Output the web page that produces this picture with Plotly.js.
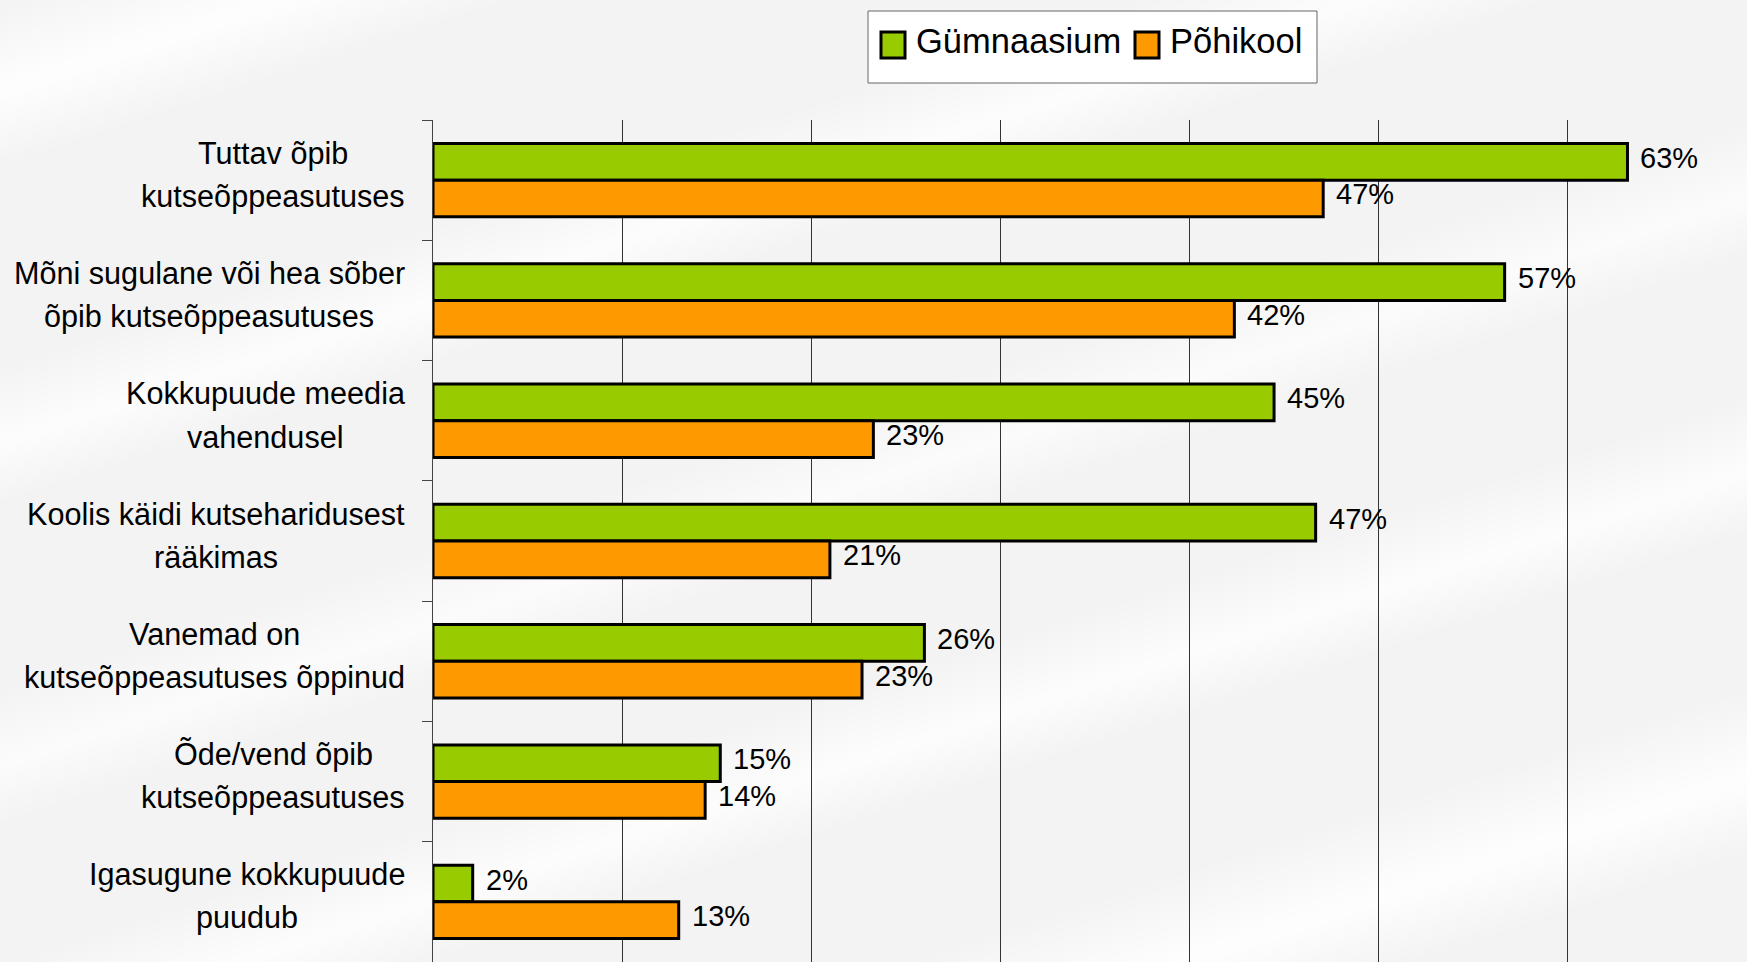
<!DOCTYPE html>
<html>
<head>
<meta charset="utf-8">
<script src="https://cdn.plot.ly/plotly-3.0.1.min.js"></script>
<style>
html, body { margin: 0; padding: 0; }
body {
  width: 1747px; height: 962px; overflow: hidden;
  background-color: #f3f3f3;
  background-image:
    linear-gradient(162deg,
      rgba(255,255,255,0) 0%, rgba(255,255,255,0.9) 6%, rgba(255,255,255,0) 11%,
      rgba(255,255,255,0) 24%, rgba(255,255,255,0.8) 29%, rgba(255,255,255,0) 33%,
      rgba(255,255,255,0) 45%, rgba(255,255,255,0.7) 50%, rgba(255,255,255,0) 54%,
      rgba(255,255,255,0) 63%, rgba(255,255,255,0.8) 68%, rgba(255,255,255,0) 72%,
      rgba(255,255,255,0) 82%, rgba(255,255,255,0.9) 88%, rgba(255,255,255,0) 93%);
}
#chart { width: 1747px; height: 962px; }
</style>
</head>
<body>
<div id="chart"></div>
<script>
// ---- data ----
const catLine1 = ['Tuttav õpib', 'Mõni sugulane või hea sõber', 'Kokkupuude meedia', 'Koolis käidi kutseharidusest', 'Vanemad on', 'Õde/vend õpib', 'Igasugune kokkupuude'];
const catLine2 = ['kutseõppeasutuses', 'õpib kutseõppeasutuses', 'vahendusel', 'rääkimas', 'kutseõppeasutuses õppinud', 'kutseõppeasutuses', 'puudub'];
const categories = catLine1.map((a, i) => a + ' ' + catLine2[i]);
const gymnaasium = [63.2, 56.7, 44.5, 46.7, 26.0, 15.2, 2.1];
const pohikool   = [47.1, 42.4, 23.3, 21.0, 22.7, 14.4, 13.0];
const seriesNames = ['Gümnaasium', 'Põhikool'];
const seriesColors = ['#99CC00', '#FF9900'];

// ---- layout geometry (pixels) ----
const W = 1747, H = 962;
const ML = 433, MT = 120, MR = 0, MB = 0;
const PW = W - ML - MR, PH = H - MT - MB;
const px2x = p => (p - ML) / PW;
const px2y = p => (H - MB - p) / PH;
const FONT = '"Liberation Sans", Arial, sans-serif';

const common = {
  type: 'bar', orientation: 'h', y: categories,
  hoverinfo: 'skip', showlegend: false, cliponaxis: false
};
const traces = [
  Object.assign({}, common, { x: gymnaasium, name: seriesNames[0], marker: { color: seriesColors[0], line: { color: '#000', width: 3 } } }),
  Object.assign({}, common, { x: pohikool, name: seriesNames[1], marker: { color: seriesColors[1], line: { color: '#000', width: 3 } } })
];

const annotations = [];

// value labels (placed at each bar end through the x axis scale)
const series = [gymnaasium, pohikool];
const valShift = [22.3, -14.3];
series.forEach((vals, s) => {
  vals.forEach((v, i) => {
    annotations.push({ xref: 'x', yref: 'y', x: v, y: categories[i], text: Math.round(v) + '%', showarrow: false,
      xanchor: 'left', yanchor: 'middle', xshift: 11, yshift: valShift[s],
      font: { family: FONT, size: 29, color: '#000' } });
  });
});

// category labels: two centered lines per category, block right-aligned
const ctx = document.createElement('canvas').getContext('2d');
const catSize = 30.6;
ctx.font = catSize + 'px "Liberation Sans"';
const labelRight = 405;
categories.forEach((c, i) => {
  const w = Math.max(ctx.measureText(catLine1[i]).width, ctx.measureText(catLine2[i]).width);
  const cx = px2x(labelRight - w / 2);
  annotations.push({ xref: 'paper', yref: 'y', x: cx, y: c, text: catLine1[i], showarrow: false, xanchor: 'center', yanchor: 'middle', yshift: 27, font: { family: FONT, size: catSize, color: '#000' } });
  annotations.push({ xref: 'paper', yref: 'y', x: cx, y: c, text: catLine2[i], showarrow: false, xanchor: 'center', yanchor: 'middle', yshift: -16, font: { family: FONT, size: catSize, color: '#000' } });
});

// legend (custom, to match large square markers)
const shapes = [
  { type: 'rect', xref: 'paper', yref: 'paper', x0: px2x(868), x1: px2x(1317), y0: px2y(83), y1: px2y(11), fillcolor: '#ffffff', line: { color: '#666', width: 1 }, layer: 'above' },
  { type: 'rect', xref: 'paper', yref: 'paper', x0: px2x(881), x1: px2x(905), y0: px2y(58), y1: px2y(32), fillcolor: seriesColors[0], line: { color: '#000', width: 3 }, layer: 'above' },
  { type: 'rect', xref: 'paper', yref: 'paper', x0: px2x(1135), x1: px2x(1159), y0: px2y(58), y1: px2y(32), fillcolor: seriesColors[1], line: { color: '#000', width: 3 }, layer: 'above' }
];
annotations.push({ xref: 'paper', yref: 'paper', x: px2x(914), y: px2y(41), text: seriesNames[0], showarrow: false, xanchor: 'left', yanchor: 'middle', font: { family: FONT, size: 34.5, color: '#000' } });
annotations.push({ xref: 'paper', yref: 'paper', x: px2x(1168), y: px2y(41), text: seriesNames[1], showarrow: false, xanchor: 'left', yanchor: 'middle', font: { family: FONT, size: 34.5, color: '#000' } });

const layout = {
  width: W, height: H,
  margin: { l: ML, r: MR, t: MT, b: MB, pad: 0 },
  paper_bgcolor: 'rgba(0,0,0,0)', plot_bgcolor: 'rgba(0,0,0,0)',
  barmode: 'group', bargap: 0.39, bargroupgap: 0,
  font: { family: FONT, color: '#000' },
  xaxis: { range: [0, PW / 18.9], dtick: 10, tick0: 0, showgrid: true, gridcolor: '#333', gridwidth: 1, zeroline: false, showline: false, showticklabels: false, ticks: '', fixedrange: true },
  yaxis: { type: 'category', autorange: 'reversed', tickson: 'boundaries', ticks: 'outside', ticklen: 10, tickcolor: '#444', tickwidth: 1, showline: true, linecolor: '#444', linewidth: 1, showgrid: false, zeroline: false, showticklabels: false, fixedrange: true },
  shapes: shapes,
  annotations: annotations
};

Plotly.newPlot('chart', traces, layout, { displayModeBar: false, staticPlot: true });
</script>
</body>
</html>
